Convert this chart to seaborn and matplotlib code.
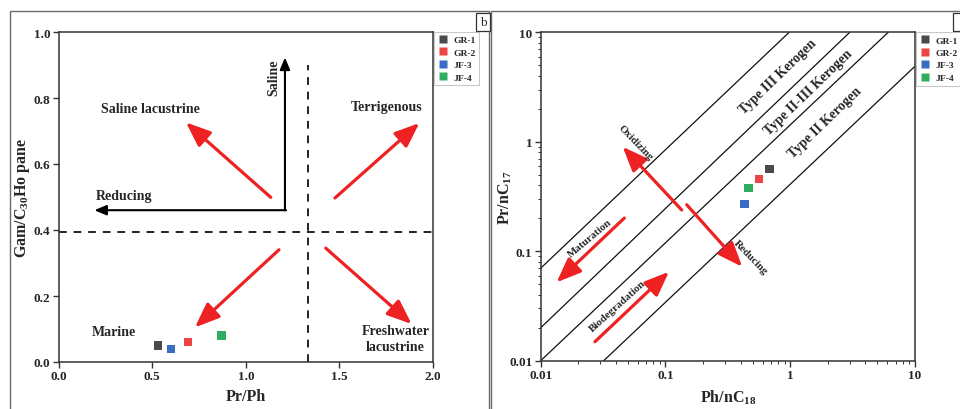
import numpy as np
import pandas as pd
import seaborn as sns
import matplotlib
matplotlib.use("Agg")
import matplotlib.pyplot as plt
from matplotlib.patches import Rectangle

# ---------------- data ----------------
samples = ["GR-1", "GR-2", "JF-3", "JF-4"]
colors = ["#4a4a4a", "#ef4444", "#3b6cc4", "#2fae62"]

# left chart: Pr/Ph vs Gam/C30Hopane
pr_ph = [0.53, 0.69, 0.60, 0.87]
gam_hop = [0.05, 0.06, 0.04, 0.08]

# right chart: Ph/nC18 vs Pr/nC17
ph_nc18 = [0.68, 0.565, 0.43, 0.464]
pr_nc17 = [0.56, 0.457, 0.27, 0.379]

# kerogen boundary lines (endpoints)
kero_x = [[0.01, 0.98], [0.01, 3.0], [0.01, 6.1], [0.032, 10.0]]
kero_y = [[0.07, 10.0], [0.02, 10.0], [0.01, 10.0], [0.01, 4.9]]

# left chart divider values
h_div = 0.393
v_div = 1.334
v_div_top = 0.9

sns.set_theme(style="white")
plt.rcParams["font.family"] = ["Liberation Serif", "DejaVu Serif"]
plt.rcParams["font.weight"] = "bold"
plt.rcParams["mathtext.fontset"] = "custom"
plt.rcParams["mathtext.rm"] = "Liberation Serif:bold"
plt.rcParams["mathtext.it"] = "Liberation Serif:bold"
plt.rcParams["mathtext.bf"] = "Liberation Serif:bold"

fig = plt.figure(figsize=(9.6, 4.1), dpi=100)
W, H = 960.0, 410.0

# panel frames
fig.patches.append(Rectangle((10 / W, -0.05), 479 / W, (H - 12) / H + 0.05,
                             transform=fig.transFigure, fill=False,
                             edgecolor="#6a6a6a", lw=1.0))
fig.patches.append(Rectangle((491 / W, -0.05), 500 / W, (H - 12) / H + 0.05,
                             transform=fig.transFigure, fill=False,
                             edgecolor="#6a6a6a", lw=1.0))
fig.patches.append(Rectangle((476 / W, (H - 32) / H), 14 / W, 18 / H,
                             transform=fig.transFigure, fill=True, facecolor="white",
                             edgecolor="#333333", lw=0.9))
fig.text(483 / W, (H - 23) / H, "b", ha="center", va="center", fontsize=9.5,
         fontweight="normal")
fig.patches.append(Rectangle((953 / W, (H - 32) / H), 14 / W, 18 / H,
                             transform=fig.transFigure, fill=True, facecolor="white",
                             edgecolor="#333333", lw=0.9))

ax1 = fig.add_axes([58.7 / W, (H - 363) / H, (433 - 58.7) / W, 330 / H])
ax2 = fig.add_axes([540.7 / W, (H - 361.7) / H, (915 - 540.7) / W, 328.4 / H])

pal = dict(zip(samples, colors))

# ---------------- left chart ----------------
df1 = pd.DataFrame({"x": pr_ph, "y": gam_hop, "Sample": samples})
sns.scatterplot(data=df1, x="x", y="y", hue="Sample", palette=pal, marker="s",
                s=36, edgecolor="none", ax=ax1, zorder=5)
ax1.axhline(h_div, color="#222222", lw=1.4, ls=(0, (4, 3.5)))
ax1.plot([v_div, v_div], [0, v_div_top], color="#222222", lw=1.4, ls=(0, (4, 3.5)))

blk = dict(arrowstyle="-|>,head_length=0.6,head_width=0.25", color="black", lw=1.5,
           mutation_scale=12, shrinkA=0, shrinkB=0)
ax1.annotate("", xy=(1.209, 0.923), xytext=(1.209, 0.46), arrowprops=blk)
ax1.annotate("", xy=(0.19, 0.46), xytext=(1.215, 0.46), arrowprops=blk)

red = dict(arrowstyle="-|>,head_length=0.75,head_width=0.3", color="#ee2222", lw=2.3,
           mutation_scale=20, shrinkA=0, shrinkB=0)
ax1.annotate("", xy=(0.680, 0.726), xytext=(1.133, 0.499), arrowprops=red)
ax1.annotate("", xy=(1.927, 0.724), xytext=(1.476, 0.497), arrowprops=red)
ax1.annotate("", xy=(0.728, 0.105), xytext=(1.177, 0.340), arrowprops=red)
ax1.annotate("", xy=(1.886, 0.115), xytext=(1.427, 0.345), arrowprops=red)

tk = dict(fontsize=10, fontweight="bold", ha="center", va="center")
ax1.text(0.488, 0.767, "Saline lacustrine", **tk)
ax1.text(1.753, 0.775, "Terrigenous", **tk)
ax1.text(0.351, 0.506, "Reducing", **tk)
ax1.text(1.147, 0.863, "Saline", rotation=90, **tk)
ax1.text(0.295, 0.092, "Marine", **tk)
ax1.text(1.80, 0.071, "Freshwater\nlacustrine", linespacing=1.35, **tk)

ax1.set_xlim(0, 2.0)
ax1.set_ylim(0, 1.0)
ax1.set_xticks([0.0, 0.5, 1.0, 1.5, 2.0])
ax1.set_yticks([0.0, 0.2, 0.4, 0.6, 0.8, 1.0])
ax1.set_xticklabels(["0.0", "0.5", "1.0", "1.5", "2.0"])
ax1.set_yticklabels(["0.0", "0.2", "0.4", "0.6", "0.8", "1.0"])
ax1.set_xlabel("Pr/Ph", fontsize=11.5, fontweight="bold")
ax1.set_ylabel("Gam/C$_{30}$Ho pane", fontsize=11.5, fontweight="bold")
ax1.xaxis.set_label_coords(0.5, -0.08)
ax1.yaxis.set_label_coords(-0.071, 0.5)

# ---------------- right chart ----------------
df2 = pd.DataFrame({"x": ph_nc18, "y": pr_nc17, "Sample": samples})
for xs, ys in zip(kero_x, kero_y):
    ax2.plot(xs, ys, color="#111111", lw=0.9)
sns.scatterplot(data=df2, x="x", y="y", hue="Sample", palette=pal, marker="s",
                s=36, edgecolor="none", ax=ax2, zorder=5)
ax2.set_xscale("log")
ax2.set_yscale("log")

ax2.annotate("", xy=(0.0454, 0.90), xytext=(0.135, 0.238), arrowprops=red)
ax2.annotate("", xy=(0.412, 0.0721), xytext=(0.148, 0.266), arrowprops=red)
ax2.annotate("", xy=(0.0134, 0.052), xytext=(0.0468, 0.201), arrowprops=red)
ax2.annotate("", xy=(0.1067, 0.065), xytext=(0.0272, 0.0149), arrowprops=red)

tr = dict(fontweight="bold", ha="center", va="center", rotation_mode="anchor")
ax2.text(0.796, 3.98, "Type III Kerogen", fontsize=9.8, rotation=44, **tr)
ax2.text(1.39, 2.84, "Type II-III Kerogen", fontsize=9.8, rotation=44, **tr)
ax2.text(1.90, 1.51, "Type II Kerogen", fontsize=9.8, rotation=44, **tr)
ax2.text(0.057, 0.99, "Oxidizing", fontsize=7.8, rotation=-46, **tr)
ax2.text(0.475, 0.0885, "Reducing", fontsize=7.8, rotation=-46, **tr)
ax2.text(0.0248, 0.132, "Maturation", fontsize=7.8, rotation=40, **tr)
ax2.text(0.0416, 0.0316, "Biodegradation", fontsize=7.8, rotation=42, **tr)

ax2.set_xlim(0.01, 10)
ax2.set_ylim(0.01, 10)
ax2.set_xticks([0.01, 0.1, 1, 10])
ax2.set_xticklabels(["0.01", "0.1", "1", "10"])
ax2.set_yticks([0.01, 0.1, 1, 10])
ax2.set_yticklabels(["0.01", "0.1", "1", "10"])
ax2.set_xlabel("Ph/nC$_{18}$", fontsize=11.5, fontweight="bold")
ax2.set_ylabel("Pr/nC$_{17}$", fontsize=11.5, fontweight="bold")
ax2.xaxis.set_label_coords(0.5, -0.082)
ax2.yaxis.set_label_coords(-0.071, 0.5)

for ax in (ax1, ax2):
    for sp in ax.spines.values():
        sp.set_visible(True)
        sp.set_color("#333333")
        sp.set_linewidth(1.1)
    ax.tick_params(axis="both", which="major", direction="out", length=4,
                   width=1.0, color="#333333", labelsize=9.5, pad=2,
                   bottom=True, left=True)
    ax.tick_params(axis="both", which="minor", direction="out", length=2.2,
                   width=0.7, color="#333333", bottom=True, left=True)
    for lab in ax.get_xticklabels() + ax.get_yticklabels():
        lab.set_fontweight("bold")
    ax.grid(False)
    ax.set_facecolor("white")
    leg = ax.legend(loc="upper left", bbox_to_anchor=(1.004, 1.0), frameon=True,
                    fontsize=6.8, markerscale=0.95, handletextpad=0.6,
                    labelspacing=0.4, borderpad=0.4, handlelength=1.0,
                    fancybox=False, borderaxespad=0)
    leg.get_frame().set_edgecolor("#bbbbbb")
    leg.get_frame().set_linewidth(0.8)
    for t in leg.get_texts():
        t.set_fontweight("bold")

ax2.minorticks_on()
ax1.minorticks_off()

fig.savefig("out.png", dpi=100, facecolor="white")
